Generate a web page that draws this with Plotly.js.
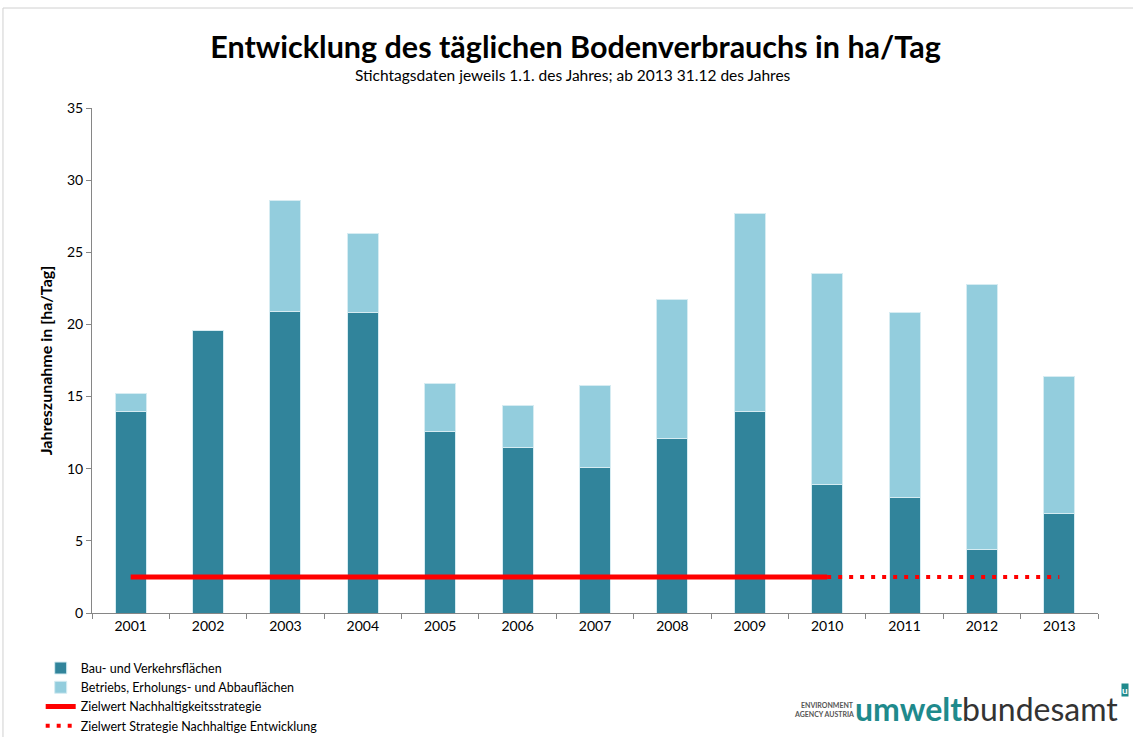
<!DOCTYPE html>
<html><head><meta charset="utf-8">
<script src="https://cdn.plot.ly/plotly-3.0.1.min.js"></script>
<style>html,body{margin:0;padding:0;background:#fff}#chart{width:1133px;height:737px}</style>
</head><body><div id="chart"></div>
<script>
const years = ['2001','2002','2003','2004','2005','2006','2007','2008','2009','2010','2011','2012','2013'];
const bauVerkehr = [14.0, 19.6, 20.9, 20.8, 12.6, 11.5, 10.1, 12.1, 14.0, 8.9, 8.0, 4.4, 6.9];
const betriebsErholung = [1.2, 0, 7.7, 5.5, 3.3, 2.85, 5.7, 9.6, 13.7, 14.6, 12.8, 18.4, 9.5];
const zielSolidYears = ['2001','2010'];
const zielSolidValues = [2.5, 2.5];
const zielDotYears = ['2010','2013'];
const zielDotValues = [2.5, 2.5];
const yTicks = [0,5,10,15,20,25,30,35];

const font = 'Lato, "Open Sans", sans-serif';
const traces = [
  {type:'bar', x:years, y:bauVerkehr, name:'Bau- und Verkehrsflächen',
   marker:{color:'#31849B', line:{color:'#d6ecf2', width:1}}},
  {type:'bar', x:years, y:betriebsErholung, name:'Betriebs, Erholungs- und Abbauflächen',
   marker:{color:'#93CDDD', line:{color:'#d6ecf2', width:1}}},
  {type:'scatter', mode:'lines', x:zielSolidYears, y:zielSolidValues, name:'Zielwert Nachhaltigkeitsstrategie',
   line:{color:'#FF0000', width:5}},
  {type:'scatter', mode:'lines', x:zielDotYears, y:zielDotValues, name:'Zielwert Strategie Nachhaltige Entwicklung',
   line:{color:'#FF0000', width:4, dash:'4px,7px'}}
];
const layout = {
  width:1133, height:737,
  margin:{l:92, r:35, t:108, b:124, autoexpand:false},
  paper_bgcolor:'#fff', plot_bgcolor:'#fff',
  font:{family:font, color:'#000', size:13},
  barmode:'stack', bargap:0.6,
  showlegend:true,
  legend:{x:-0.051, y:-0.08, xanchor:'left', yanchor:'top', orientation:'v', traceorder:'normal',
          font:{size:12.5, family:font}, tracegroupgap:0, itemwidth:30, bgcolor:'rgba(0,0,0,0)'},
  title:{text:'<b>Entwicklung des täglichen Bodenverbrauchs in ha/Tag</b>', font:{size:30.5, family:font},
         x:0.508, xref:'container', y:0.936, yanchor:'middle'},
  xaxis:{type:'category', tickson:'boundaries', ticks:'outside', ticklen:5, tickcolor:'#868686',
         showline:true, linecolor:'#868686', linewidth:1, showgrid:false, zeroline:false,
         tickfont:{size:14}},
  yaxis:{range:[0,35], tickvals:yTicks, ticks:'outside', ticklen:5, tickcolor:'#868686',
         showline:true, linecolor:'#868686', linewidth:1, showgrid:false, zeroline:false,
         tickfont:{size:14},
         title:{text:'<b>Jahreszunahme in [ha/Tag]</b>', font:{size:16}, standoff:10}},
  shapes:[
    {type:'line', xref:'paper', yref:'paper', x0:-0.0885, x1:-0.0885, y0:-0.3, y1:1.198, line:{color:'#d0d0d0', width:1}},
    {type:'line', xref:'paper', yref:'paper', x0:-0.0885, x1:1.1, y0:1.198, y1:1.198, line:{color:'#d0d0d0', width:1}}
  ],
  annotations:[
    {text:'Stichtagsdaten jeweils 1.1. des Jahres; ab 2013 31.12 des Jahres', xref:'paper', yref:'paper',
     x:0.478, y:1.065, xanchor:'center', yanchor:'middle', showarrow:false, font:{size:15.5}},
    {text:'<b>ENVIRONMENT</b>', xref:'paper', yref:'paper', x:0.759, y:-0.182, xanchor:'right', yanchor:'middle',
     showarrow:false, font:{size:7, color:'#555'}},
    {text:'<b>AGENCY AUSTRIA</b>', xref:'paper', yref:'paper', x:0.759, y:-0.2, xanchor:'right', yanchor:'middle',
     showarrow:false, font:{size:7, color:'#555'}},
    {text:'<b>umwelt</b><span style="color:#333">bundesamt</span>', xref:'paper', yref:'paper', x:0.756, y:-0.19,
     xanchor:'left', yanchor:'middle', showarrow:false, font:{size:32, color:'#1f8a8c', family:font}},
    {text:'<b>u</b>', xref:'paper', yref:'paper', x:1.027, y:-0.152, xanchor:'center', yanchor:'middle',
     showarrow:false, font:{size:10, color:'#fff'}, bgcolor:'#1f8a8c', borderpad:0}
  ]
};
Plotly.newPlot('chart', traces, layout, {displayModeBar:false});
</script></body></html>
